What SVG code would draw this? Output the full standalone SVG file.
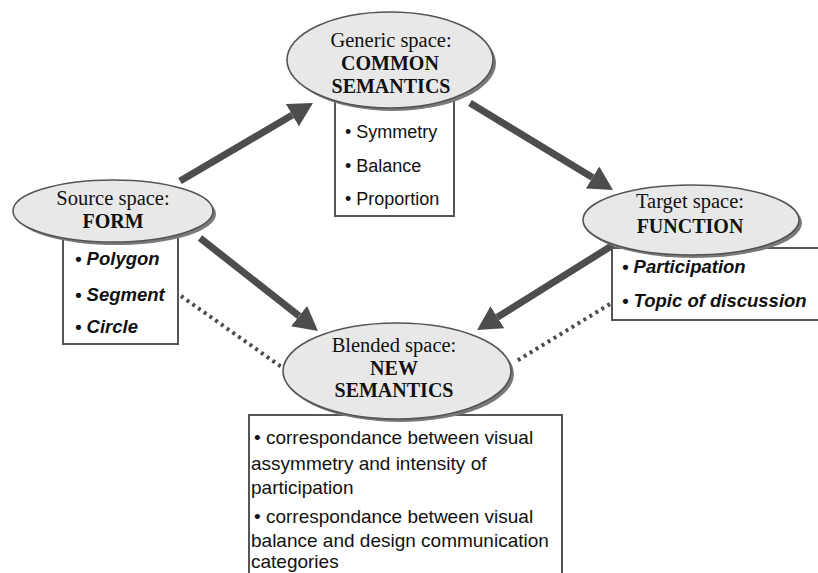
<svg xmlns="http://www.w3.org/2000/svg" width="818" height="573" viewBox="0 0 818 573">
<style>
.bg{fill:#ffffff}
.shadow{fill:#7a7a7a}
.ell{fill:#e8e8e8;stroke:#555555;stroke-width:1.6}
.box{fill:#ffffff;stroke:#555555;stroke-width:2}
.title{font-family:"Liberation Serif","Times New Roman",serif;font-size:20.5px;fill:#111111;text-anchor:middle}
.titleb{font-family:"Liberation Serif","Times New Roman",serif;font-size:20px;font-weight:bold;fill:#111111;text-anchor:middle}
.item{font-family:"Liberation Sans",Arial,sans-serif;font-size:18px;fill:#111111}
.itembi{font-family:"Liberation Sans",Arial,sans-serif;font-size:18.5px;font-weight:bold;font-style:italic;fill:#111111}
.desc{font-family:"Liberation Sans",Arial,sans-serif;font-size:19px;fill:#111111}
.arrow{stroke:#4d4d4d;stroke-width:7;fill:none}
.dot{stroke:#4d4d4d;stroke-width:4;fill:none;stroke-dasharray:3 4}
</style>
<defs>
<marker id="ah" viewBox="0 0 24 26" refX="0" refY="13" markerWidth="24" markerHeight="26" markerUnits="userSpaceOnUse" orient="auto">
<path d="M0,0 L24,13 L0,26 Z" fill="#4d4d4d"/>
</marker>
</defs>
<rect class="bg" x="0" y="0" width="818" height="573"/>
<g id="connectors">
<line class="arrow" x1="180" y1="181" x2="292.3" y2="115.1" marker-end="url(#ah)"/>
<line class="arrow" x1="470" y1="103" x2="592.5" y2="177.5" marker-end="url(#ah)"/>
<line class="arrow" x1="200" y1="238" x2="299.1" y2="316.1" marker-end="url(#ah)"/>
<line class="arrow" x1="613" y1="245" x2="497.4" y2="317.3" marker-end="url(#ah)"/>
<line class="dot" x1="181" y1="296" x2="283" y2="368"/>
<line class="dot" x1="610" y1="304" x2="515" y2="362"/>
</g>
<g id="generic">
<rect class="box" x="335" y="92" width="119" height="124"/>
<ellipse class="shadow" cx="393" cy="63" rx="103" ry="48"/>
<ellipse class="ell" cx="390" cy="60" rx="103" ry="48"/>
<text class="title" x="391" y="47">Generic space:</text>
<text class="titleb" x="390" y="70">COMMON</text>
<text class="titleb" x="391" y="93">SEMANTICS</text>
<text class="item" x="345" y="138">• Symmetry</text>
<text class="item" x="345" y="172">• Balance</text>
<text class="item" x="345" y="205">• Proportion</text>
</g>
<g id="source">
<rect class="box" x="63" y="230" width="115" height="114"/>
<ellipse class="shadow" cx="116" cy="214" rx="100" ry="31"/>
<ellipse class="ell" cx="113" cy="211" rx="100" ry="31"/>
<text class="title" x="113" y="205">Source space:</text>
<text class="titleb" x="113" y="228">FORM</text>
<text class="itembi" x="75" y="265">• Polygon</text>
<text class="itembi" x="75" y="301">• Segment</text>
<text class="itembi" x="75" y="333">• Circle</text>
</g>
<g id="target">
<rect class="box" x="612" y="248" width="220" height="72"/>
<ellipse class="shadow" cx="694" cy="223" rx="108" ry="35"/>
<ellipse class="ell" cx="691" cy="220" rx="108" ry="35"/>
<text class="title" x="690" y="208">Target space:</text>
<text class="titleb" x="690" y="233">FUNCTION</text>
<text class="itembi" x="622" y="273">• Participation</text>
<text class="itembi" x="622" y="307">• Topic of discussion</text>
</g>
<g id="blended">
<rect class="box" x="249" y="415" width="313" height="175"/>
<ellipse class="shadow" cx="400" cy="374" rx="114" ry="48"/>
<ellipse class="ell" cx="397" cy="371" rx="114" ry="48"/>
<text class="title" x="394" y="352">Blended space:</text>
<text class="titleb" x="394" y="375">NEW</text>
<text class="titleb" x="394" y="397">SEMANTICS</text>
<text class="desc" x="254" y="444">• correspondance between visual</text>
<text class="desc" x="251" y="470">assymmetry and intensity of</text>
<text class="desc" x="251" y="494">participation</text>
<text class="desc" x="254" y="523">• correspondance between visual</text>
<text class="desc" x="251" y="547">balance and design communication</text>
<text class="desc" x="251" y="568">categories</text>
</g>
</svg>
